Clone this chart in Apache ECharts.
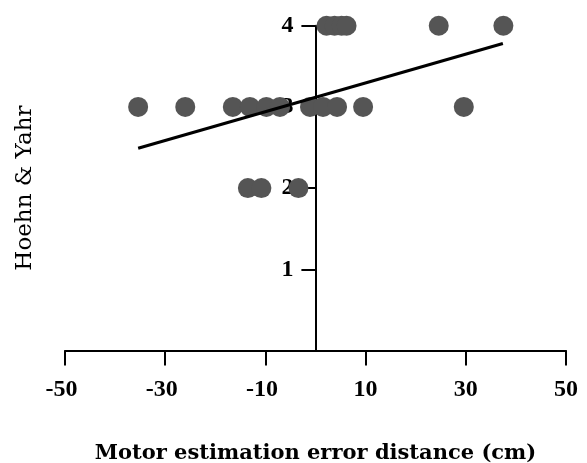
<!DOCTYPE html>
<html>
<head>
<meta charset="utf-8">
<script src="https://cdn.jsdelivr.net/npm/echarts@6/dist/echarts.min.js"></script>
<style>
  html, body { margin: 0; padding: 0; background: #fff; }
  #chart { width: 587px; height: 463px; }
</style>
</head>
<body>
<div id="chart"></div>
<script>
// estimation error (cm) vs Hoehn & Yahr stage
const hy4 = [2.2, 3.8, 5.2, 6.2, 24.6, 37.5]
const hy3 = [-35.4, -26.0, -16.5, -13.1, -9.8, -7.1, -1.1, 1.5, 4.3, 9.5, 29.6]
const hy2 = [-13.5, -10.8, -3.4]
const fitLine = [[-35.4, 2.49], [37.4, 3.78]]
const xTicks = [-50, -30, -10, 10, 30, 50]

const points = []
hy4.forEach((x) => points.push([x, 4]))
hy3.forEach((x) => points.push([x, 3]))
hy2.forEach((x) => points.push([x, 2]))

const nameFont = 'DejaVu Serif'
const tickFont = 'Liberation Serif'
const chart = echarts.init(document.getElementById('chart'))

chart.setOption({
  animation: false,
  grid: {
    left: 65,
    right: 21,
    top: 25.7,
    bottom: 112.5,
    containLabel: false,
    outerBoundsMode: 'none',
  },
  xAxis: {
    type: 'value',
    min: -50,
    max: 50,
    interval: 20,
    name: 'Motor estimation error distance (cm)',
    nameLocation: 'middle',
    nameGap: 93,
    nameTextStyle: { fontFamily: nameFont, fontWeight: 'bold', fontSize: 21, color: '#000' },
    axisLine: { onZero: false, lineStyle: { color: '#000', width: 2 } },
    axisTick: { show: true, inside: false, length: 15, lineStyle: { color: '#000', width: 2 } },
    axisLabel: {
      margin: 27,
      fontFamily: tickFont,
      fontWeight: 'bold',
      fontSize: 24,
      color: '#000',
      customValues: xTicks,
      // keep the digits centred on the tick, minus sign hangs left
      formatter: (v) => (v < 0 ? '{neg|' + v + '}' : String(v)),
      rich: {
        neg: {
          fontFamily: tickFont,
          fontWeight: 'bold',
          fontSize: 24,
          color: '#000',
          padding: [0, 7, 0, 0],
        },
      },
    },
    splitLine: { show: false },
  },
  yAxis: {
    type: 'value',
    min: 0,
    max: 4,
    interval: 1,
    position: 'left',
    offset: -250.4,
    name: 'Hoehn & Yahr',
    nameLocation: 'middle',
    nameRotate: 90,
    nameGap: 279,
    nameTextStyle: { fontFamily: nameFont, fontWeight: 'normal', fontSize: 23, color: '#000' },
    axisLine: { show: true, onZero: false, lineStyle: { color: '#000', width: 2 } },
    axisTick: { show: true, length: 14, lineStyle: { color: '#000', width: 2 } },
    axisLabel: {
      margin: 22,
      fontFamily: tickFont,
      fontWeight: 'bold',
      fontSize: 24,
      color: '#000',
      formatter: (v) => (v === 0 ? '' : v),
    },
    splitLine: { show: false },
  },
  series: [
    {
      name: 'patients',
      type: 'scatter',
      symbolSize: 20,
      itemStyle: { color: '#555555', opacity: 1 },
      data: points,
      z: 2,
    },
    {
      name: 'fit',
      type: 'line',
      showSymbol: false,
      lineStyle: { color: '#000', width: 3 },
      data: fitLine,
      z: 3,
    },
  ],
})
</script>
</body>
</html>
